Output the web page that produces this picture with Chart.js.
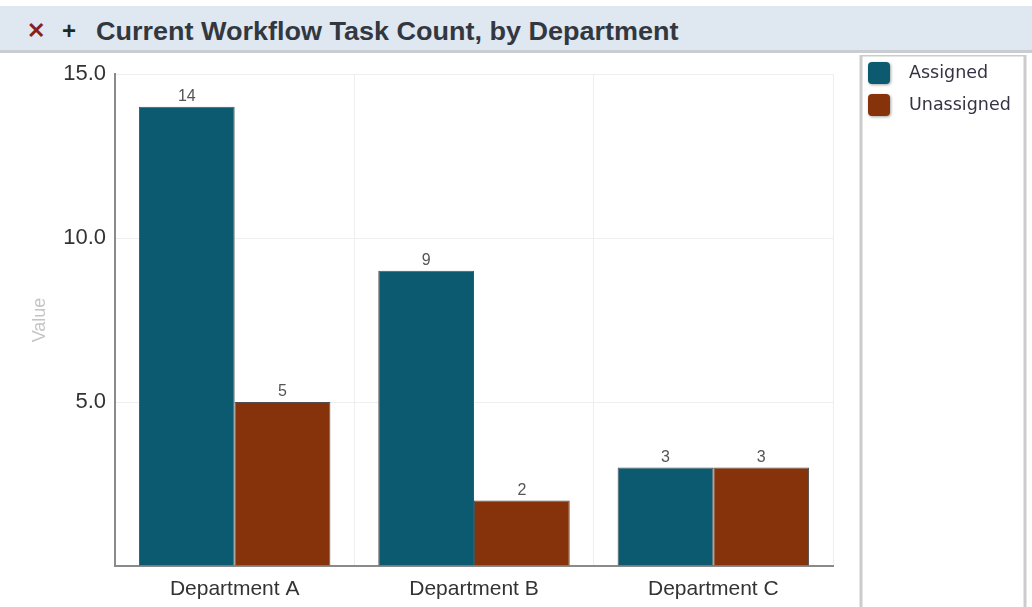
<!DOCTYPE html>
<html><head><meta charset="utf-8">
<script src="https://cdn.jsdelivr.net/npm/chart.js@4/dist/chart.umd.min.js"></script>
<style>
html,body{margin:0;padding:0;background:#fff;width:1032px;height:607px;overflow:hidden}
#hdr{position:absolute;left:0;top:6px;width:1032px;height:44px;background:#dfe7f1;border-bottom:3px solid #c9cdd2;font-family:"Liberation Sans",Arial,sans-serif;}
#hdr span{position:absolute;white-space:nowrap;line-height:44px;top:3px}
#hdr .x{left:27px;color:#8b1e1e;font-size:22px;font-weight:bold}
#hdr .p{left:62px;color:#1f2a1f;font-size:24px;font-weight:bold}
#hdr .t{left:96px;color:#333840;font-size:25px;font-weight:bold;transform:scaleX(1.08);transform-origin:0 50%}
#c{position:absolute;left:0;top:55px}
</style></head>
<body>
<div id="hdr"><span class="x">&#x2715;</span><span class="p">+</span><span class="t">Current Workflow Task Count, by Department</span></div>
<canvas id="c" width="1032" height="552"></canvas>
<script>
const categories = ["Department A", "Department B", "Department C"];
const seriesNames = ["Assigned", "Unassigned"];
const assigned = [14, 9, 3];
const unassigned = [5, 2, 3];
const yTicks = [5, 10, 15];
const colors = ["#0c5a70", "#86330c"];

const valueLabels = {
  id: 'valueLabels',
  afterDatasetsDraw(chart) {
    const ctx = chart.ctx;
    ctx.save();
    ctx.font = '16px "Liberation Sans", Arial, sans-serif';
    ctx.fillStyle = '#555';
    ctx.textAlign = 'center';
    ctx.textBaseline = 'bottom';
    chart.data.datasets.forEach((ds, i) => {
      chart.getDatasetMeta(i).data.forEach((bar, j) => {
        ctx.fillText(String(ds.data[j]), bar.x, bar.y - 2);
      });
    });
    ctx.restore();
  }
};

const sideLegend = {
  id: 'sideLegend',
  afterDraw(chart) {
    const ctx = chart.ctx;
    const left = 861, top = 0, right = 1025, bottom = chart.height + 5;
    ctx.save();
    ctx.strokeStyle = '#cccccc';
    ctx.lineWidth = 3;
    ctx.strokeRect(left, top, right - left, bottom - top);
    ctx.font = '17.5px "DejaVu Sans", Verdana, sans-serif';
    ctx.textBaseline = 'middle';
    chart.data.datasets.forEach((ds, i) => {
      const y = 7 + i * 32;
      ctx.save();
      ctx.shadowColor = 'rgba(0,0,0,0.35)';
      ctx.shadowBlur = 3;
      ctx.shadowOffsetX = 1;
      ctx.shadowOffsetY = 1;
      ctx.fillStyle = ds.backgroundColor;
      ctx.beginPath();
      ctx.roundRect(868, y, 22, 22, 4);
      ctx.fill();
      ctx.restore();
      ctx.fillStyle = '#333344';
      ctx.fillText(ds.label, 909, y + 11);
    });
    ctx.restore();
  }
};

new Chart(document.getElementById('c'), {
  type: 'bar',
  data: {
    labels: categories,
    datasets: [
      { label: seriesNames[0], data: assigned, backgroundColor: colors[0], borderColor: '#505050', borderWidth: 1 },
      { label: seriesNames[1], data: unassigned, backgroundColor: colors[1], borderColor: '#505050', borderWidth: 1 }
    ]
  },
  options: {
    responsive: false,
    devicePixelRatio: 1,
    animation: false,
    layout: { padding: { left: 0, right: 199, top: 19, bottom: 0 } },
    datasets: { bar: { categoryPercentage: 0.8, barPercentage: 1.0 } },
    plugins: { legend: { display: false }, tooltip: { enabled: false } },
    scales: {
      x: {
        grid: { color: '#eeeeee', drawTicks: false, offset: true },
        border: { color: '#8a8a8a', width: 2 },
        ticks: { color: '#333', padding: 11, font: { family: '"Liberation Sans", Arial, sans-serif', size: 21 } },
        afterFit(s) { s.height = 41; s.paddingLeft = 0; s.paddingRight = 0; }
      },
      y: {
        min: 0, max: 15,
        afterBuildTicks(s) { s.ticks = [0].concat(yTicks).map(v => ({ value: v })); },
        grid: { color: '#eeeeee', drawTicks: false },
        border: { color: '#8a8a8a', width: 2 },
        ticks: { color: '#333', padding: 9, font: { family: '"Liberation Sans", Arial, sans-serif', size: 22 },
          callback: v => v === 0 ? '' : v.toFixed(1) },
        title: { display: true, text: 'Value', color: '#c4c4c4', padding: { top: 29, bottom: 0 },
          font: { family: '"Liberation Sans", Arial, sans-serif', size: 18 } },
        afterFit(s) { s.width = 115; s.paddingTop = 0; s.paddingBottom = 0; }
      }
    }
  },
  plugins: [valueLabels, sideLegend]
});
</script>
</body></html>
